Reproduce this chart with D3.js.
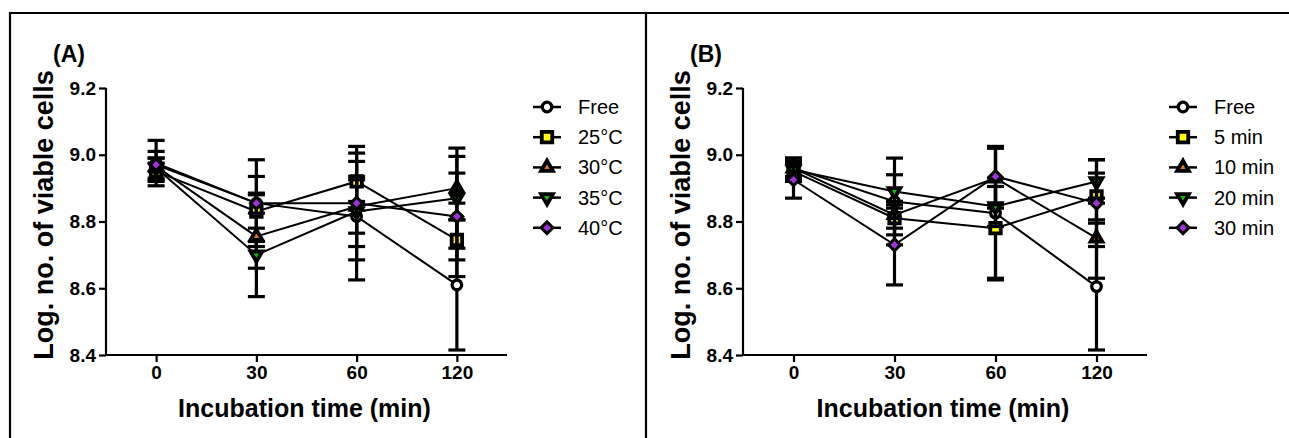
<!DOCTYPE html>
<html>
<head>
<meta charset="utf-8">
<script src="https://cdn.jsdelivr.net/npm/d3@7"></script>
<style>
  html, body { margin: 0; padding: 0; background: #fff; }
  svg { display: block; }
  text { font-family: "Liberation Sans", Arial, sans-serif; fill: #000; }
</style>
</head>
<body>
<svg id="chart" width="1289" height="438"></svg>
<script>
// ---------- data ----------
const times = ["0", "30", "60", "120"];
const yTicks = [8.4, 8.6, 8.8, 9.0, 9.2];

const seriesA = ["Free", "25°C", "30°C", "35°C", "40°C"];
const meanA_free = [8.975, 8.855, 8.815, 8.61];
const errA_free  = [0.068, 0.13, 0.19, 0.195];
const meanA_25 = [8.95, 8.83, 8.92, 8.745];
const errA_25  = [0.025, 0.05, 0.06, 0.06];
const meanA_30 = [8.965, 8.755, 8.845, 8.90];
const errA_30  = [0.045, 0.18, 0.08, 0.045];
const meanA_35 = [8.96, 8.70, 8.83, 8.87];
const errA_35  = [0.03, 0.04, 0.105, 0.15];
const meanA_40 = [8.97, 8.855, 8.855, 8.815];
const errA_40  = [0.02, 0.03, 0.17, 0.18];

const seriesB = ["Free", "5 min", "10 min", "20 min", "30 min"];
const meanB_free = [8.96, 8.86, 8.825, 8.605];
const errB_free  = [0.03, 0.13, 0.2, 0.19];
const meanB_5 = [8.95, 8.81, 8.78, 8.875];
const errB_5  = [0.03, 0.05, 0.15, 0.07];
const meanB_10 = [8.96, 8.82, 8.93, 8.75];
const errB_10  = [0.03, 0.04, 0.09, 0.12];
const meanB_20 = [8.955, 8.89, 8.845, 8.92];
const errB_20  = [0.02, 0.05, 0.06, 0.065];
const meanB_30 = [8.925, 8.73, 8.935, 8.855];
const errB_30  = [0.055, 0.12, 0.085, 0.13];

// ---------- styles ----------
const markerStyles = [
  { type: "circle",   fill: "#ffffff" },
  { type: "square",   fill: "#ffff00" },
  { type: "triangle", fill: "#e07a1f" },
  { type: "down",     fill: "#00c400" },
  { type: "diamond",  fill: "#a032dc" }
];

const svg = d3.select("#chart");

// frame
svg.append("line").attr("x1", 10).attr("x2", 1289).attr("y1", 13).attr("y2", 13)
  .attr("stroke", "#000").attr("stroke-width", 2.2);
svg.append("line").attr("x1", 10).attr("x2", 10).attr("y1", 12).attr("y2", 438)
  .attr("stroke", "#000").attr("stroke-width", 2.2);
svg.append("line").attr("x1", 646).attr("x2", 646).attr("y1", 12).attr("y2", 438)
  .attr("stroke", "#000").attr("stroke-width", 2.2);

function symbolPath(type) {
  switch (type) {
    case "circle":   return d3.symbol(d3.symbolCircle, 72)();
    case "square":   return d3.symbol(d3.symbolSquare, 110)();
    case "triangle": return d3.symbol(d3.symbolTriangle, 60)();
    case "down":     return d3.symbol(d3.symbolTriangle, 60)();
    case "diamond":  return d3.symbol(d3.symbolSquare, 70)();
  }
}
function symbolStroke(type) {
  if (type === "diamond") return 3;
  if (type === "circle") return 3.3;
  return 3.8;
}
function symbolRot(type) {
  if (type === "down") return " rotate(180)";
  if (type === "diamond") return " rotate(45)";
  return "";
}

function drawPanel(opt) {
  const g = svg.append("g");
  const x = d3.scalePoint().domain(times).range([opt.x0, opt.x1]).padding(0.5);
  const y = d3.scaleLinear().domain([8.4, 9.2]).range([355, 88]);

  // axes
  const yAxis = d3.axisLeft(y).tickValues(yTicks).tickFormat(d3.format(".1f")).tickSize(7).tickPadding(3);
  const gy = g.append("g").attr("transform", `translate(${opt.x0},0)`).call(yAxis);
  const xAxis = d3.axisBottom(x).tickSize(7).tickPadding(4);
  const gx = g.append("g").attr("transform", `translate(0,355)`).call(xAxis);
  [gx, gy].forEach(a => {
    a.select(".domain").attr("stroke", "#000").attr("stroke-width", 2.2);
    a.selectAll(".tick line").attr("stroke", "#000").attr("stroke-width", 2.2);
    a.selectAll(".tick text").style("font-family", "'Liberation Sans', Arial, sans-serif")
      .style("font-size", "19px").style("font-weight", "bold").attr("fill", "#000");
  });
  gx.select(".domain").attr("d", `M${opt.x0},0H${opt.x1}`);
  gy.select(".domain").attr("d", `M0,355V88`);

  // titles
  g.append("text").attr("x", (opt.x0 + opt.x1) / 2 - 2).attr("y", 417)
    .attr("text-anchor", "middle").style("font-size", "25px").style("font-weight", "bold")
    .text("Incubation time (min)");
  g.append("text").attr("transform", `translate(${opt.x0 - 53},215) rotate(-90)`)
    .attr("text-anchor", "middle").style("font-size", "27px").style("font-weight", "bold")
    .text("Log. no. of viable cells");
  g.append("text").attr("x", opt.x0 - 53).attr("y", 62)
    .style("font-size", "23px").style("font-weight", "bold").text(opt.label);

  const line = d3.line().x((d, i) => x(times[i])).y(d => y(d));

  // connecting lines
  opt.means.forEach(m => {
    g.append("path").attr("d", line(m)).attr("fill", "none")
      .attr("stroke", "#000").attr("stroke-width", 2);
  });

  // error bars + markers per series
  opt.means.forEach((m, si) => {
    const e = opt.errs[si];
    const st = markerStyles[si];
    m.forEach((v, i) => {
      const cx = x(times[i]);
      g.append("line").attr("x1", cx).attr("x2", cx).attr("y1", y(v - e[i])).attr("y2", y(v + e[i]))
        .attr("stroke", "#000").attr("stroke-width", 3.2);
      [v - e[i], v + e[i]].forEach(w => {
        g.append("line").attr("x1", cx - 8.5).attr("x2", cx + 8.5).attr("y1", y(w)).attr("y2", y(w))
          .attr("stroke", "#000").attr("stroke-width", 3.2);
      });
    });
    m.forEach((v, i) => {
      g.append("path").attr("d", symbolPath(st.type))
        .attr("transform", `translate(${x(times[i])},${y(v)})${symbolRot(st.type)}`)
        .attr("fill", st.fill).attr("stroke", "#000").attr("stroke-width", symbolStroke(st.type))
        .attr("stroke-linejoin", "miter");
    });
  });

  // legend
  opt.names.forEach((n, si) => {
    const st = markerStyles[si];
    const ly = 107 + si * 30.2;
    const lg = g.append("g").attr("transform", `translate(${opt.legX},${ly})`);
    lg.append("line").attr("x1", -14).attr("x2", 14).attr("y1", 0).attr("y2", 0)
      .attr("stroke", "#000").attr("stroke-width", 2.5);
    lg.append("path").attr("d", symbolPath(st.type))
      .attr("transform", symbolRot(st.type).trim())
      .attr("fill", st.fill).attr("stroke", "#000").attr("stroke-width", symbolStroke(st.type));
    lg.append("text").attr("x", 31).attr("y", 7).style("font-size", "20px").text(n);
  });
}

drawPanel({
  x0: 106, x1: 507, label: "(A)", legX: 547,
  names: seriesA,
  means: [meanA_free, meanA_25, meanA_30, meanA_35, meanA_40],
  errs: [errA_free, errA_25, errA_30, errA_35, errA_40]
});
drawPanel({
  x0: 743, x1: 1147, label: "(B)", legX: 1183,
  names: seriesB,
  means: [meanB_free, meanB_5, meanB_10, meanB_20, meanB_30],
  errs: [errB_free, errB_5, errB_10, errB_20, errB_30]
});
</script>
</body>
</html>
